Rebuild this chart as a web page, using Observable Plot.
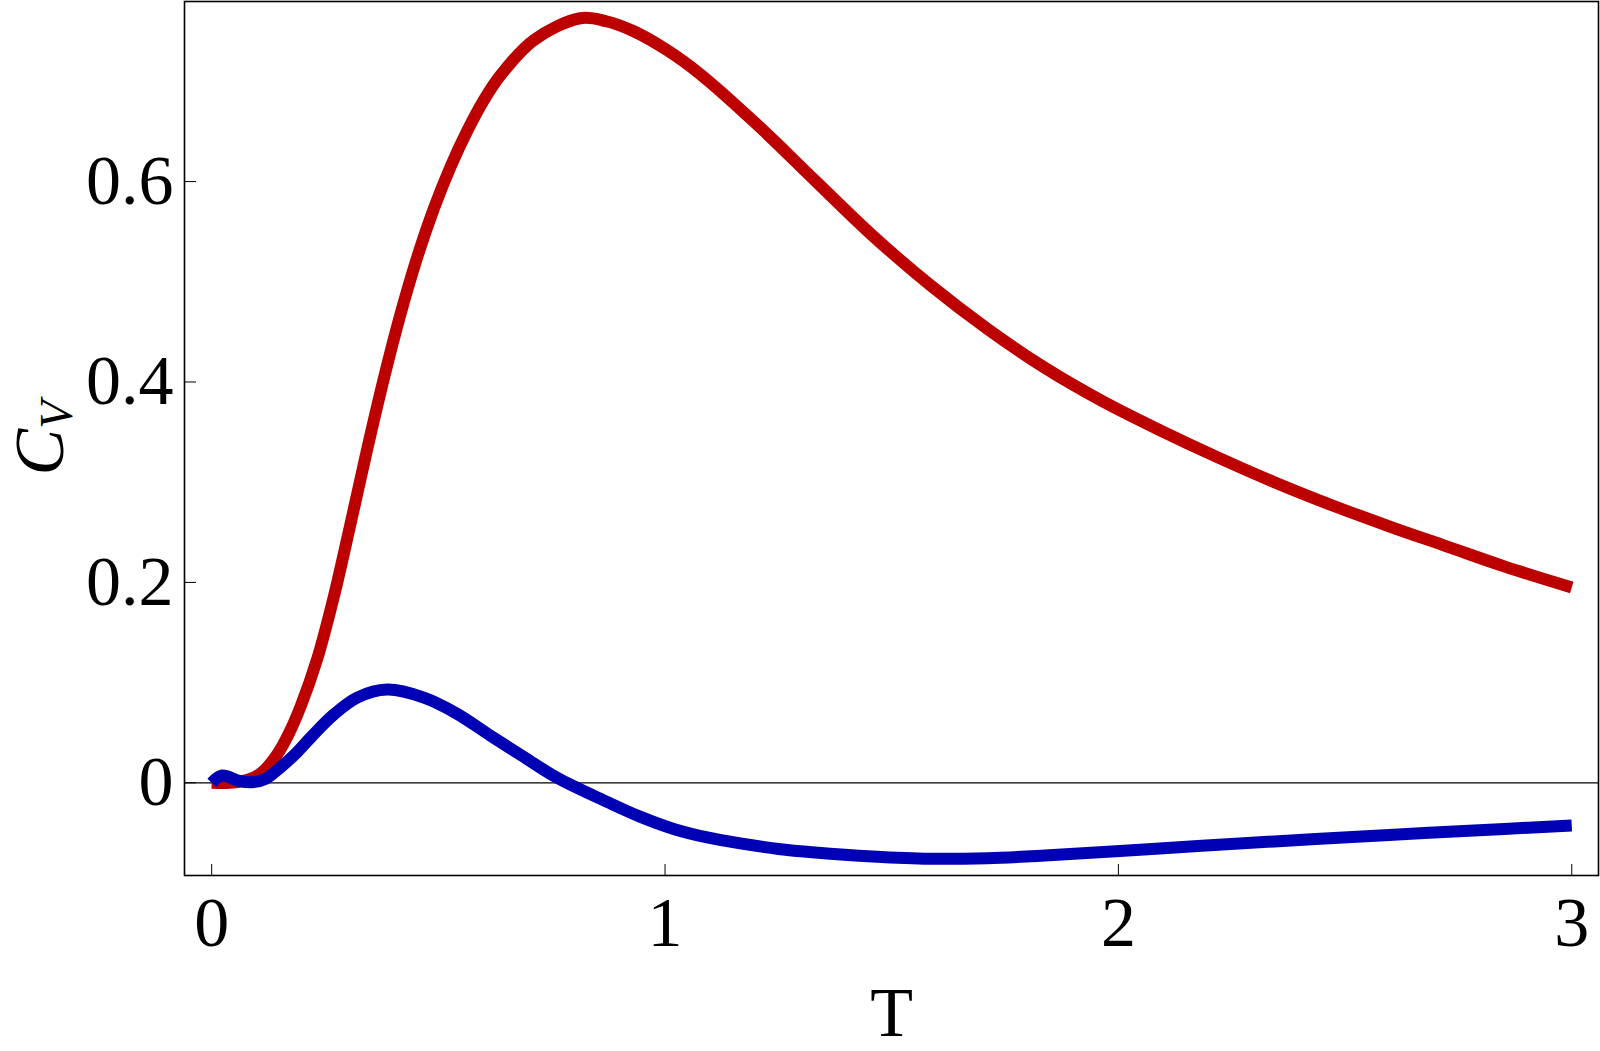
<!DOCTYPE html>
<html>
<head>
<meta charset="utf-8">
<script src="https://cdn.jsdelivr.net/npm/d3@7"></script>
<script src="https://cdn.jsdelivr.net/npm/@observablehq/plot@0.6"></script>
<style>
  html, body { margin: 0; padding: 0; background: #fff; }
  #chart svg { display: block; }
</style>
</head>
<body>
<div id="chart"></div>
<script>
// ---- data ----
const redT = [0, 0.04, 0.08, 0.11, 0.144, 0.17, 0.196, 0.233, 0.269, 0.306, 0.343, 0.38, 0.416, 0.453, 0.49, 0.527, 0.563, 0.6, 0.637, 0.71, 0.813, 0.87, 0.931, 1.005, 1.078, 1.205, 1.331, 1.458, 1.584, 1.711, 1.838, 1.964, 2.091, 2.218, 2.344, 2.471, 2.597, 2.724, 2.851, 3.0];
const redC = [0, 0, 0.003, 0.01, 0.028, 0.049, 0.076, 0.124, 0.185, 0.258, 0.333, 0.404, 0.467, 0.524, 0.573, 0.615, 0.650, 0.681, 0.706, 0.741, 0.763, 0.760, 0.750, 0.731, 0.707, 0.656, 0.601, 0.546, 0.497, 0.453, 0.414, 0.381, 0.352, 0.325, 0.300, 0.277, 0.256, 0.236, 0.216, 0.195];

const blueT = [0, 0.023, 0.06, 0.089, 0.119, 0.148, 0.185, 0.22, 0.269, 0.321, 0.387, 0.468, 0.541, 0.615, 0.688, 0.762, 0.872, 0.946, 1.019, 1.093, 1.166, 1.25, 1.331, 1.458, 1.584, 1.711, 1.838, 2.091, 2.344, 2.597, 2.851, 3.0];
const blueC = [0, 0.0073, 0.002, 0.0006, 0.004, 0.014, 0.029, 0.046, 0.068, 0.085, 0.093, 0.085, 0.069, 0.047, 0.026, 0.005, -0.019, -0.034, -0.046, -0.0545, -0.0605, -0.066, -0.0695, -0.0735, -0.0758, -0.0752, -0.0725, -0.0655, -0.0585, -0.052, -0.046, -0.0425];

const xTicks = [0, 1, 2, 3];
const yTicks = [0, 0.2, 0.4, 0.6];
const xLabel = "T";
const yLabelMain = "C";
const yLabelSub = "V";

// ---- tables ----
const red = redT.map((t, i) => ({T: t, C: redC[i]}));
const blue = blueT.map((t, i) => ({T: t, C: blueC[i]}));

const W = 1600, H = 1051;
const mL = 184, mR = 2, mT = 1, mB = 176;
const fw = W - mL - mR, fh = H - mT - mB;
const serif = "'Liberation Serif', 'Times New Roman', Times, serif";

const chart = Plot.plot({
  width: W,
  height: H,
  marginLeft: mL,
  marginRight: mR,
  marginTop: mT,
  marginBottom: mB,
  style: {fontFamily: serif, fontSize: "70px", background: "#fff", color: "#000"},
  x: {domain: [-0.06, 3.059]},
  y: {domain: [-0.0925, 0.7797]},
  marks: [
    Plot.ruleY([0], {stroke: "#000", strokeWidth: 1.2}),
    Plot.line(red, {x: "T", y: "C", stroke: "rgb(188,0,0)", strokeWidth: 12, curve: "catmull-rom", strokeLinecap: "butt", strokeLinejoin: "round"}),
    Plot.line(blue, {x: "T", y: "C", stroke: "rgb(0,0,180)", strokeWidth: 12, curve: "catmull-rom", strokeLinecap: "butt", strokeLinejoin: "round"}),
    Plot.ruleX(xTicks, {insetTop: fh - 11, stroke: "#000", strokeWidth: 1}),
    Plot.ruleY(yTicks, {insetRight: fw - 12, stroke: "#000", strokeWidth: 1}),
    Plot.axisX(xTicks, {tickSize: 0, tickPadding: 21, fontSize: 70, tickFormat: d => String(d), label: xLabel, labelAnchor: "center", labelOffset: 160, labelArrow: "none"}),
    Plot.axisY(yTicks, {tickSize: 0, tickPadding: 11, fontSize: 70, label: null, tickFormat: d => String(d)}),
    Plot.frame({stroke: "#000", strokeWidth: 1.6})
  ]
});

// y-axis label with subscript, rotated
const svg = d3.select(chart);
const lab = svg.append("text")
  .attr("transform", `translate(63,${mT + fh / 2}) rotate(-90)`)
  .attr("text-anchor", "middle")
  .attr("fill", "#000")
  .style("font-family", serif)
  .style("font-style", "italic")
  .style("font-size", "70px");
lab.append("tspan").text(yLabelMain);
lab.append("tspan").attr("dy", 9).style("font-size", "46px").text(yLabelSub);

document.getElementById("chart").appendChild(chart);
</script>
</body>
</html>
